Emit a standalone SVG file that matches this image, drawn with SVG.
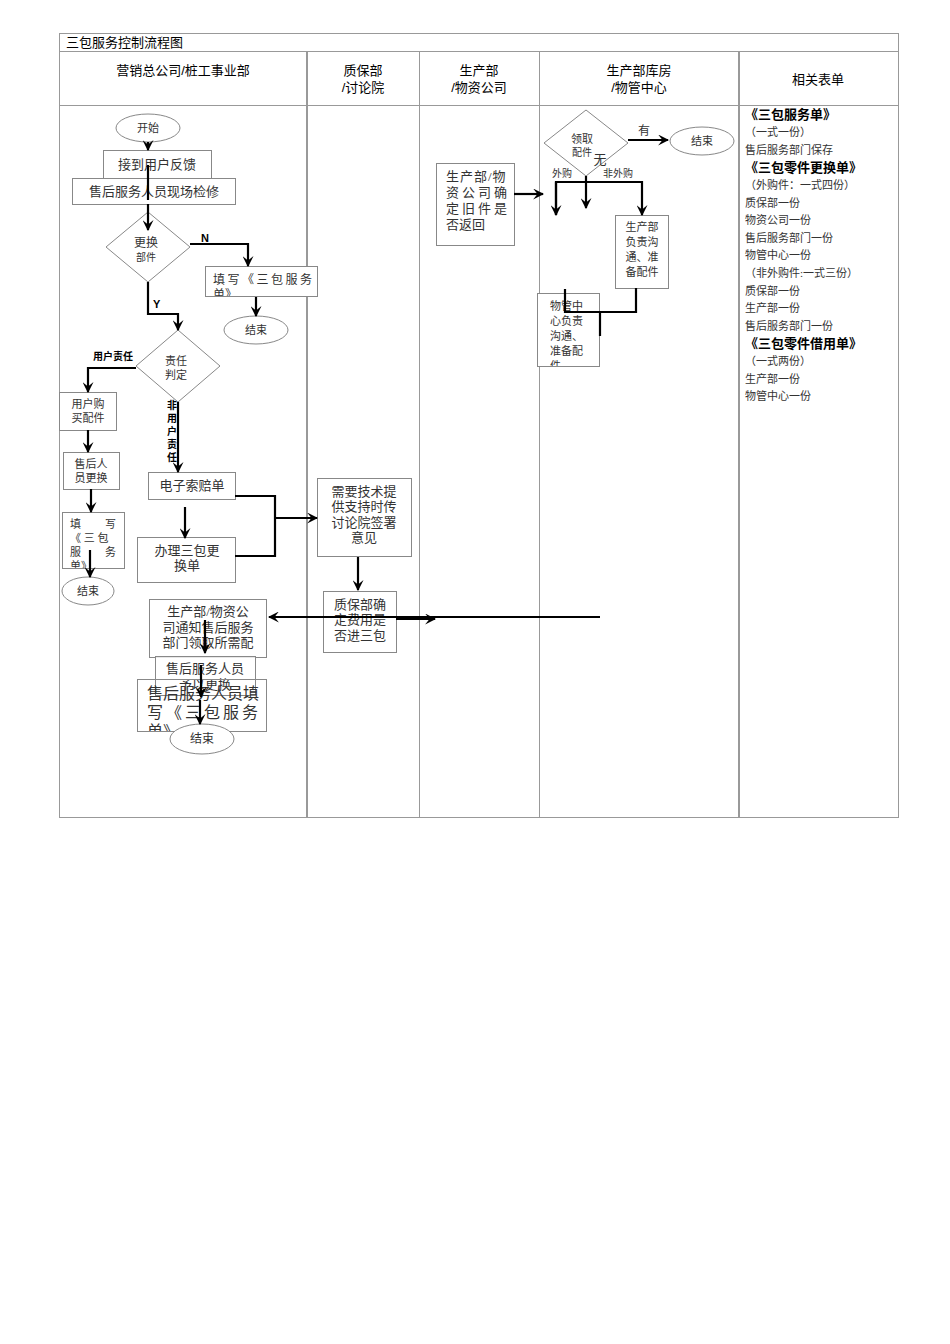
<svg xmlns="http://www.w3.org/2000/svg" width="950" height="1344" viewBox="0 0 950 1344">
<style>
.t{font-family:"Liberation Serif","Noto Sans CJK SC",serif;fill:#333;}
.s{font-family:"Liberation Sans","Noto Sans CJK SC",sans-serif;fill:#000;}
.b{fill:#fff;stroke:#888;stroke-width:1}
.c{fill:none;stroke:#000;stroke-width:2.2}
.g{stroke:#999;fill:none}
</style>
<defs>
<marker id="a" viewBox="0 0 10 10" refX="9" refY="5" markerWidth="5" markerHeight="5" orient="auto"><path d="M0,0L10,5L0,10L4,5z" fill="#000"/></marker>
<clipPath id="c1"><rect x="205" y="266" width="112" height="30"/></clipPath>
<clipPath id="c2"><rect x="62" y="512" width="62" height="56"/></clipPath>
<clipPath id="c3"><rect x="137" y="679" width="129" height="52"/></clipPath>
<clipPath id="c4"><rect x="537" y="293" width="62" height="73"/></clipPath>
<clipPath id="c5"><rect x="155" y="656" width="100" height="39"/></clipPath>
</defs>
<rect width="950" height="1344" fill="#fff"/>
<g id="table">
<rect x="59.5" y="33.5" width="839" height="784" class="g"/>
<line x1="59" y1="51.5" x2="898" y2="51.5" class="g"/>
<line x1="59" y1="105.5" x2="898" y2="105.5" class="g"/>
<line x1="307" y1="51" x2="307" y2="817" stroke="#999" stroke-width="2"/>
<line x1="419.5" y1="51" x2="419.5" y2="817" class="g"/>
<line x1="539.5" y1="51" x2="539.5" y2="817" class="g"/>
<line x1="739" y1="51" x2="739" y2="817" stroke="#999" stroke-width="2"/>
<text x="66" y="47" class="s" font-size="13">三包服务控制流程图</text>
<text x="183" y="75" class="s" font-size="13" text-anchor="middle">营销总公司/桩工事业部</text>
<text x="363" y="75" class="s" font-size="13" text-anchor="middle">质保部</text>
<text x="363" y="92" class="s" font-size="13" text-anchor="middle">/讨论院</text>
<text x="479" y="75" class="s" font-size="13" text-anchor="middle">生产部</text>
<text x="479" y="92" class="s" font-size="13" text-anchor="middle">/物资公司</text>
<text x="639" y="75" class="s" font-size="13" text-anchor="middle">生产部库房</text>
<text x="639" y="92" class="s" font-size="13" text-anchor="middle">/物管中心</text>
<text x="818" y="84" class="s" font-size="13" text-anchor="middle">相关表单</text>
</g>
<g id="forms" class="t" font-size="11">
<text x="745" y="119" font-size="13" font-weight="bold" fill="#000">《三包服务单》</text>
<text x="745" y="136">（一式一份）</text>
<text x="745" y="154">售后服务部门保存</text>
<text x="745" y="172" font-size="13" font-weight="bold" fill="#000">《三包零件更换单》</text>
<text x="745" y="189">（外购件：一式四份）</text>
<text x="745" y="207">质保部一份</text>
<text x="745" y="224">物资公司一份</text>
<text x="745" y="242">售后服务部门一份</text>
<text x="745" y="259">物管中心一份</text>
<text x="745" y="277">（非外购件:一式三份）</text>
<text x="745" y="295">质保部一份</text>
<text x="745" y="312">生产部一份</text>
<text x="745" y="330">售后服务部门一份</text>
<text x="745" y="348" font-size="13" font-weight="bold" fill="#000">《三包零件借用单》</text>
<text x="745" y="365">（一式两份）</text>
<text x="745" y="383">生产部一份</text>
<text x="745" y="400">物管中心一份</text>
</g>
<g id="nodes" class="t">
<g id="start"><ellipse cx="148" cy="128" rx="32" ry="14" class="b"/><text x="148" y="132" font-size="11" text-anchor="middle">开始</text></g>
<g id="n1"><rect x="103.5" y="150.5" width="108" height="30" class="b"/><text x="157" y="169" font-size="13" text-anchor="middle">接到用户反馈</text></g>
<g id="n2"><rect x="72.5" y="178.5" width="163" height="26" class="b"/><text x="154" y="196" font-size="13" text-anchor="middle">售后服务人员现场检修</text></g>
<g id="d1"><path d="M148,212L190,247L148,282L106,247z" class="b"/><text x="146" y="247" font-size="12" text-anchor="middle">更换</text><text x="146" y="261" font-size="10" text-anchor="middle">部件</text></g>
<g id="n3"><rect x="205.5" y="266.5" width="112" height="30" class="b"/><g clip-path="url(#c1)"><text x="213" y="284" font-size="12" letter-spacing="2.5">填写《三包服务</text><text x="213" y="299" font-size="12">单》</text></g></g>
<g id="end1"><ellipse cx="256" cy="330" rx="32" ry="14" class="b"/><text x="256" y="334" font-size="11" text-anchor="middle">结束</text></g>
<g id="d2"><path d="M178,330L220,366L178,402L136,366z" class="b"/><text x="176" y="365" font-size="11" text-anchor="middle">责任</text><text x="176" y="379" font-size="11" text-anchor="middle">判定</text></g>
<g id="n4"><rect x="59.5" y="392.5" width="57" height="38" class="b"/><text x="88" y="408" font-size="11" text-anchor="middle">用户购</text><text x="88" y="422" font-size="11" text-anchor="middle">买配件</text></g>
<g id="n5"><rect x="63.5" y="452.5" width="56" height="37" class="b"/><text x="91" y="468" font-size="11" text-anchor="middle">售后人</text><text x="91" y="482" font-size="11" text-anchor="middle">员更换</text></g>
<g id="n6"><rect x="62.5" y="512.5" width="62" height="56" class="b"/><g clip-path="url(#c2)" font-size="11"><text x="70" y="528">填</text><text x="105" y="528">写</text><text x="70" y="542">《 三 包</text><text x="70" y="556">服</text><text x="105" y="556">务</text><text x="70" y="570">单》</text></g></g>
<g id="end2"><ellipse cx="88" cy="591" rx="26" ry="14" class="b"/><text x="88" y="595" font-size="11" text-anchor="middle">结束</text></g>
<g id="n7"><rect x="148.5" y="472.5" width="87" height="27" class="b"/><text x="192" y="490" font-size="13" text-anchor="middle">电子索赔单</text></g>
<g id="n8"><rect x="137.5" y="537.5" width="98" height="45" class="b"/><text x="187" y="555" font-size="13" text-anchor="middle">办理三包更</text><text x="187" y="570" font-size="13" text-anchor="middle">换单</text></g>
<g id="n9"><rect x="317.5" y="478.5" width="94" height="78" class="b"/><text x="364" y="496" font-size="13" text-anchor="middle">需要技术提</text><text x="364" y="511" font-size="13" text-anchor="middle">供支持时传</text><text x="364" y="527" font-size="13" text-anchor="middle">讨论院签署</text><text x="364" y="542" font-size="13" text-anchor="middle">意见</text></g>
<g id="n10"><rect x="323.5" y="591.5" width="73" height="61" class="b"/><text x="360" y="609" font-size="13" text-anchor="middle">质保部确</text><text x="360" y="624" font-size="13" text-anchor="middle">定费用是</text><text x="360" y="640" font-size="13" text-anchor="middle">否进三包</text></g>
<g id="n11"><rect x="149.5" y="599.5" width="117" height="58" class="b"/><text x="208" y="616" font-size="13" text-anchor="middle">生产部/物资公</text><text x="208" y="632" font-size="13" text-anchor="middle">司通知售后服务</text><text x="208" y="647" font-size="13" text-anchor="middle">部门领取所需配</text></g>
<g id="n12"><rect x="155.5" y="656.5" width="100" height="39" class="b" fill-opacity="0.8"/><g clip-path="url(#c5)"><text x="205" y="673" font-size="13" text-anchor="middle">售后服务人员</text><text x="205" y="689" font-size="13" text-anchor="middle">予以更换</text></g></g>
<g id="n13"><rect x="137.5" y="679.5" width="129" height="52" fill="none" stroke="#888"/><g clip-path="url(#c3)" font-size="16"><text x="147" y="699">售后服务人员填</text><text x="147" y="718" letter-spacing="3">写《三包服务</text><text x="147" y="737">单》</text></g></g>
<g id="end3"><ellipse cx="202" cy="739" rx="32" ry="15" class="b"/><text x="202" y="743" font-size="12" text-anchor="middle">结束</text></g>
<g id="n14"><rect x="436.5" y="163.5" width="78" height="82" class="b"/><g font-size="13"><text x="446" y="181" letter-spacing="1">生产部/物</text><text x="446" y="197" letter-spacing="3">资公司确</text><text x="446" y="213" letter-spacing="3">定旧件是</text><text x="446" y="229">否返回</text></g></g>
<g id="d3"><path d="M586,110L628,143L586,176L544,143z" class="b"/><text x="582" y="143" font-size="11" text-anchor="middle">领取</text><text x="582" y="156" font-size="10" text-anchor="middle">配件</text><text x="600" y="164" font-size="13" text-anchor="middle">无</text></g>
<g id="end4"><ellipse cx="702" cy="141" rx="32" ry="14" class="b"/><text x="702" y="145" font-size="11" text-anchor="middle">结束</text></g>
<g id="n15"><rect x="615.5" y="215.5" width="53" height="73" class="b"/><g font-size="11" text-anchor="middle"><text x="642" y="231">生产部</text><text x="642" y="246">负责沟</text><text x="642" y="261">通、准</text><text x="642" y="276">备配件</text></g></g>
<g id="n16"><rect x="537.5" y="293.5" width="62" height="73" class="b"/><g clip-path="url(#c4)" font-size="11"><text x="550" y="310">物管中</text><text x="550" y="325">心负责</text><text x="550" y="340">沟通、</text><text x="550" y="355">准备配</text><text x="550" y="370">件</text></g></g>
</g>
<g id="connectors">
<path d="M148,142V150" class="c" stroke-width="1" marker-end="url(#a)"/>
<path d="M148,165V200" class="c"/>
<path d="M148,204V230" class="c" marker-end="url(#a)"/>
<path d="M190,244H248V266" class="c" marker-end="url(#a)"/>
<path d="M256,297V316" class="c" marker-end="url(#a)"/>
<path d="M148,282V314H178V330" class="c" marker-end="url(#a)"/>
<path d="M136,368H88V392" class="c" marker-end="url(#a)"/>
<path d="M88,430V452" class="c" marker-end="url(#a)"/>
<path d="M91,489V512" class="c" marker-end="url(#a)"/>
<path d="M90,550V577" class="c" marker-end="url(#a)"/>
<path d="M178,402V472" class="c" marker-end="url(#a)"/>
<path d="M185,507V538" class="c" marker-end="url(#a)"/>
<path d="M235,496H275V556H235" class="c"/>
<path d="M275,518H317" class="c" marker-end="url(#a)"/>
<path d="M358,557V590" class="c" marker-end="url(#a)"/>
<path d="M396,619H435" class="c" marker-end="url(#a)"/>
<path d="M600,617H269" class="c" marker-end="url(#a)"/>
<path d="M205,620V653" class="c" marker-end="url(#a)"/>
<path d="M201,665V697" class="c" marker-end="url(#a)"/>
<path d="M200,700V724" class="c" marker-end="url(#a)"/>
<path d="M514,194H543" class="c" marker-end="url(#a)"/>
<path d="M628,140H668" class="c" marker-end="url(#a)"/>
<path d="M586,176V208" class="c" marker-end="url(#a)"/>
<path d="M556,215V182H642V215" class="c" marker-end="url(#a)"/>
<path d="M556,182V215" class="c" marker-end="url(#a)"/>
<path d="M565,289V312H636V288" class="c"/>
<path d="M600,312V336" class="c"/>
</g>
<g id="labels">
<text x="201" y="242" class="s" font-size="11" font-weight="bold">N</text>
<text x="153" y="308" class="s" font-size="11" font-weight="bold">Y</text>
<text x="93" y="360" class="s" font-size="10" font-weight="bold">用户责任</text>
<g class="s" font-size="10" font-weight="bold" text-anchor="middle"><text x="172" y="409">非</text><text x="172" y="422">用</text><text x="172" y="435">户</text><text x="172" y="448">责</text><text x="172" y="461">任</text></g>
<text x="638" y="135" class="t" font-size="12">有</text>
<text x="552" y="177" class="t" font-size="10">外购</text>
<text x="603" y="177" class="t" font-size="10">非外购</text>
</g>
</svg>
